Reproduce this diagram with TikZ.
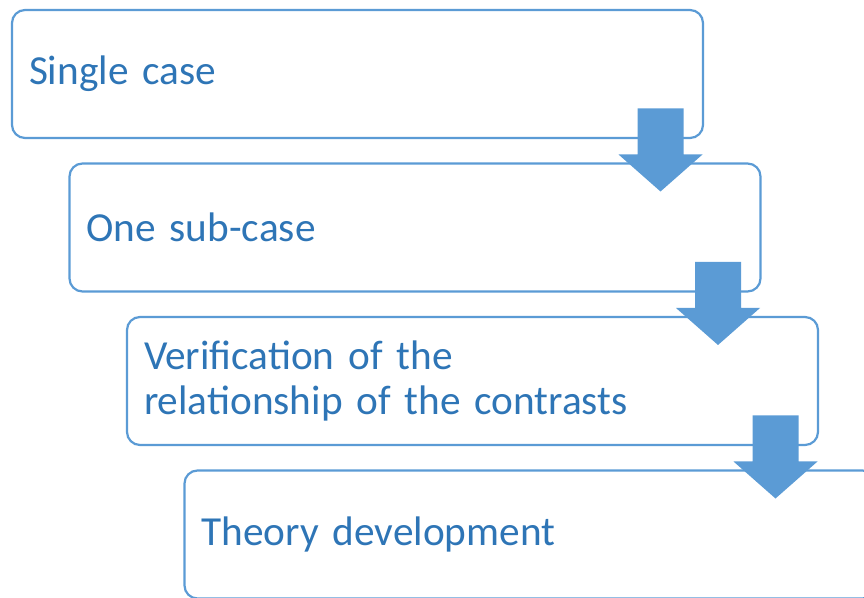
\documentclass[tikz,border=0pt]{standalone}
\usepackage{fontspec}
\setmainfont{Carlito}
\usetikzlibrary{positioning, calc}
\definecolor{boxline}{HTML}{5B9BD5}
\definecolor{boxtext}{HTML}{2E75B6}
\tikzset{node distance=25.5pt, % Gap between two boxes. Change if necessary.
x=1pt, y=1pt,
stepbox/.style={ % Sets the properties for each box
draw=boxline, line width=2.2pt,
rounded corners=13pt,
minimum width=691pt, minimum height=128pt,
text width=657pt, inner xsep=17pt, outer sep=0pt,
align=left, text=boxtext,
font=\fontsize{41.3pt}{45pt}\selectfont},
flowarrow/.style={ % Sets the properties for the block arrows
fill=boxline, draw=none}}

\begin{document}
\begin{tikzpicture}
    \clip (0,0) rectangle (864,597);

    \node[stepbox] (single) at (357.5,523) {Single case};
    \node[stepbox, below=of single, xshift=57.5pt] (subcase) {One sub-case};
    \node[stepbox, below=of subcase, xshift=57.5pt] (verify) {Verification of the\\relationship of the contrasts};
    \node[stepbox, below=of verify, xshift=57.5pt] (theory) {Theory development};

    \fill[flowarrow] ([xshift=-65.5pt,yshift=29.5pt]single.south east) -- ++(46,0) -- ++(0,-46) -- ++(19,0) -- ++(-42,-37) -- ++(-42,37) -- ++(19,0) -- cycle;
    \fill[flowarrow] ([xshift=-65.5pt,yshift=29.5pt]subcase.south east) -- ++(46,0) -- ++(0,-46) -- ++(19,0) -- ++(-42,-37) -- ++(-42,37) -- ++(19,0) -- cycle;
    \fill[flowarrow] ([xshift=-65.5pt,yshift=29.5pt]verify.south east) -- ++(46,0) -- ++(0,-46) -- ++(19,0) -- ++(-42,-37) -- ++(-42,37) -- ++(19,0) -- cycle;

\end{tikzpicture}
\end{document}
